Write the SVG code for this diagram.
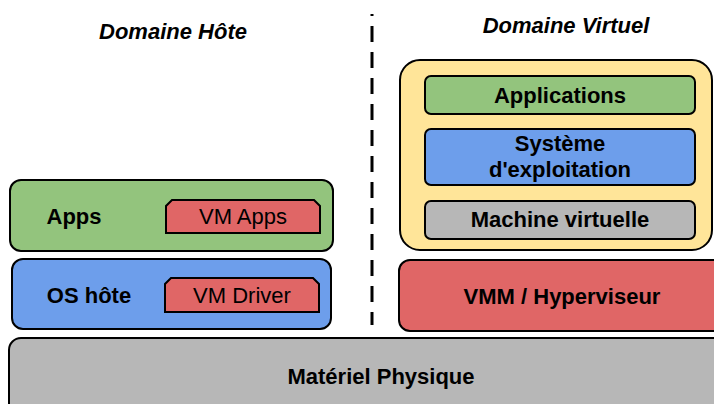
<svg xmlns="http://www.w3.org/2000/svg" width="714" height="404" viewBox="0 0 714 404">
<style>
.box{stroke:#000;stroke-width:2}
.green{fill:#93c47d}
.blue{fill:#6d9eeb}
.red{fill:#e06666}
.gray{fill:#b7b7b7}
.yellow{fill:#ffe599}
.t{font-family:"Liberation Sans",Arial,sans-serif;font-weight:bold;font-size:22px;fill:#000;text-anchor:middle}
.n{font-family:"Liberation Sans",Arial,sans-serif;font-size:22px;fill:#000;text-anchor:middle}
.h{font-family:"Liberation Sans",Arial,sans-serif;font-weight:bold;font-style:italic;font-size:22px;fill:#000;text-anchor:middle}
</style>
<rect width="714" height="404" fill="#fff"/>
<g id="connectors">
<line x1="372" y1="14" x2="372" y2="325" stroke="#000" stroke-width="3" stroke-dasharray="16 10" stroke-dashoffset="14"/>
</g>
<g id="title-host"><text class="h" x="173" y="39">Domaine Hôte</text></g>
<g id="title-virtual"><text class="h" x="566" y="33">Domaine Virtuel</text></g>
<g id="apps">
<rect class="box green" x="10" y="180" width="323" height="71" rx="11"/>
<text class="t" x="74" y="224">Apps</text>
</g>
<g id="vm-apps">
<path class="box red" d="M172 200 H314 L320 206 V233 H166 V206 Z"/>
<text class="n" x="243" y="224">VM Apps</text>
</g>
<g id="os-hote">
<rect class="box blue" x="12" y="259" width="319" height="70" rx="11"/>
<text class="t" x="89" y="303">OS hôte</text>
</g>
<g id="vm-driver">
<path class="box red" d="M171 278 H313 L319 284 V312 H165 V284 Z"/>
<text class="n" x="242" y="303">VM Driver</text>
</g>
<g id="materiel">
<rect class="box gray" x="9" y="338" width="720" height="80" rx="12"/>
<text class="t" x="381" y="384">Matériel Physique</text>
</g>
<g id="vmm">
<rect class="box red" x="399" y="260" width="330" height="71" rx="11"/>
<text class="t" x="562" y="304">VMM / Hyperviseur</text>
</g>
<g id="domaine-virtuel">
<rect class="box yellow" x="400" y="60" width="312" height="190" rx="20"/>
</g>
<g id="applications">
<rect class="box green" x="425" y="76" width="270" height="38" rx="6"/>
<text class="t" x="560" y="103">Applications</text>
</g>
<g id="systeme">
<rect class="box blue" x="425" y="129" width="270" height="56" rx="6"/>
<text class="t" x="560" y="151">Système</text>
<text class="t" x="560" y="177">d'exploitation</text>
</g>
<g id="machine-virtuelle">
<rect class="box gray" x="425" y="201" width="270" height="38" rx="6"/>
<text class="t" x="560" y="227">Machine virtuelle</text>
</g>
</svg>
